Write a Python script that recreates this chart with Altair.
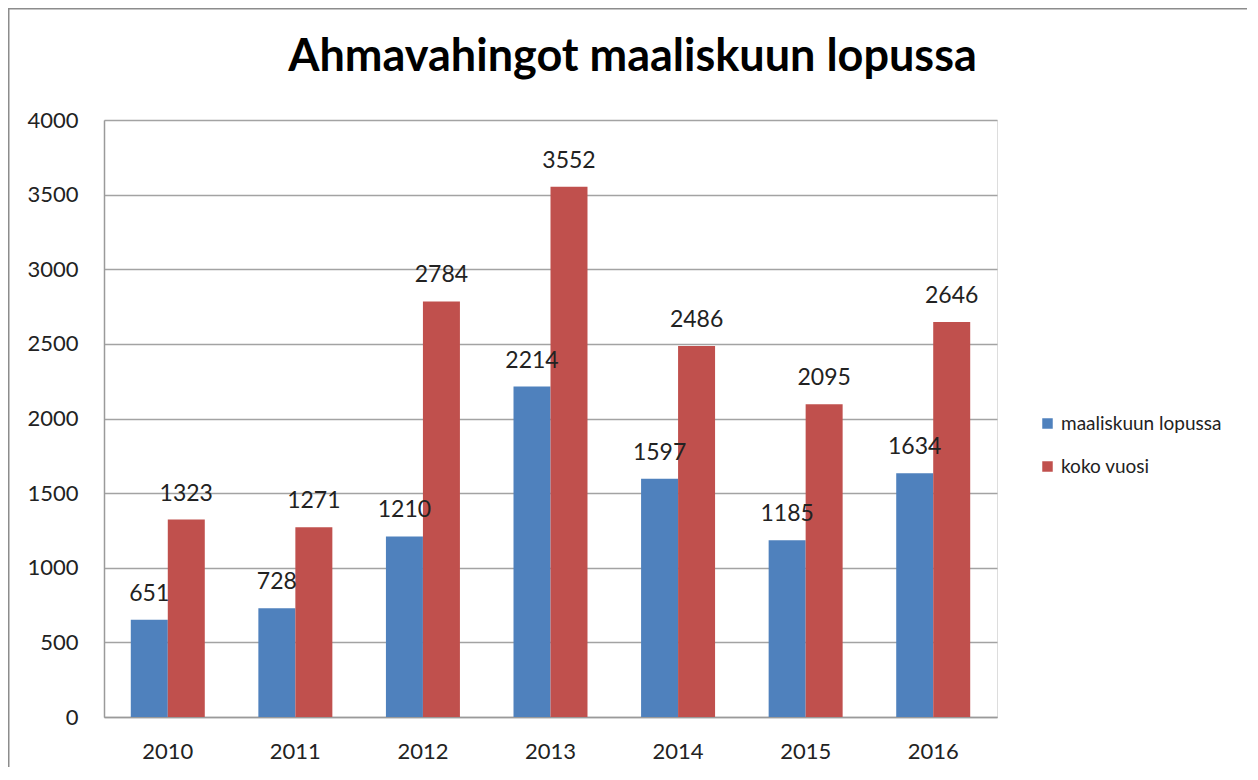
import altair as alt
import pandas as pd

years = ["2010", "2011", "2012", "2013", "2014", "2015", "2016"]
march = [651, 728, 1210, 2214, 1597, 1185, 1634]
full_year = [1323, 1271, 2784, 3552, 2486, 2095, 2646]
series = ["maaliskuun lopussa", "koko vuosi"]
colors = ["#4F81BD", "#C0504D"]
y_ticks = [0, 500, 1000, 1500, 2000, 2500, 3000, 3500, 4000]
title_text = "Ahmavahingot maaliskuun lopussa"

rows = []
for i, yr in enumerate(years):
    rows.append({"year": yr, "series": series[0], "value": march[i]})
    rows.append({"year": yr, "series": series[1], "value": full_year[i]})
df = pd.DataFrame(rows)

W, H = 893, 597
FONT = "Lato"
TXT = "#222222"

x = alt.X(
    "year:N", sort=years, title=None,
    scale=alt.Scale(paddingInner=0.42, paddingOuter=0.21),
    axis=alt.Axis(labelAngle=0, labelFontSize=22, labelColor=TXT, labelFont=FONT,
                  labelPadding=24, tickSize=0, domainColor="#9a9a9a", domainWidth=1.5,
                  grid=False),
)
y = alt.Y(
    "value:Q", title=None,
    scale=alt.Scale(domain=[0, 4000], nice=False),
    axis=alt.Axis(values=y_ticks, format="d", labelFontSize=22, labelColor=TXT, labelFont=FONT,
                  labelPadding=26, tickSize=0, domainColor="#9a9a9a", domainWidth=1.5,
                  gridColor="#a3a3a3", gridWidth=1.5),
)
xoff = alt.XOffset("series:N", sort=series, scale=alt.Scale(paddingInner=0, paddingOuter=0))
color = alt.Color(
    "series:N", sort=series,
    scale=alt.Scale(domain=series, range=colors),
    legend=alt.Legend(title=None, orient="none", legendX=934, legendY=294,
                      symbolType="square", symbolSize=110, symbolStrokeWidth=0,
                      labelFontSize=19, labelFont=FONT, labelColor=TXT, labelLimit=400,
                      labelOffset=4, rowPadding=23),
)

bars = alt.Chart(df).mark_bar(opacity=1).encode(x=x, y=y, xOffset=xoff, color=color)
labels = alt.Chart(df).mark_text(
    baseline="alphabetic", dy=-19, fontSize=23, font=FONT, color=TXT
).encode(x=x, y=y, xOffset=xoff, text="value:Q")

one = pd.DataFrame({"k": [0]})
border_v = alt.Chart(one).mark_rule(color="#8c8c8c", strokeWidth=2).encode(
    x=alt.value(-95.5), y=alt.value(-112), y2=alt.value(H + 50))
border_h = alt.Chart(one).mark_rule(color="#8c8c8c", strokeWidth=2).encode(
    y=alt.value(-111.5), x=alt.value(-96), x2=alt.value(W + 250))

chart = alt.layer(bars, labels, border_v, border_h).properties(
    width=W, height=H,
    padding={"left": 96, "top": 112, "right": 250, "bottom": 50},
    autosize=alt.AutoSizeParams(type="none"),
    title=alt.TitleParams(title_text, fontSize=45, font=FONT, fontWeight="bold",
                          color="black", anchor="middle", frame="group", dx=82,
                          baseline="alphabetic", offset=-109),
).configure_view(stroke=None).configure(background="white")

chart.save("out.html", embed_options={"renderer": "svg", "actions": False})
